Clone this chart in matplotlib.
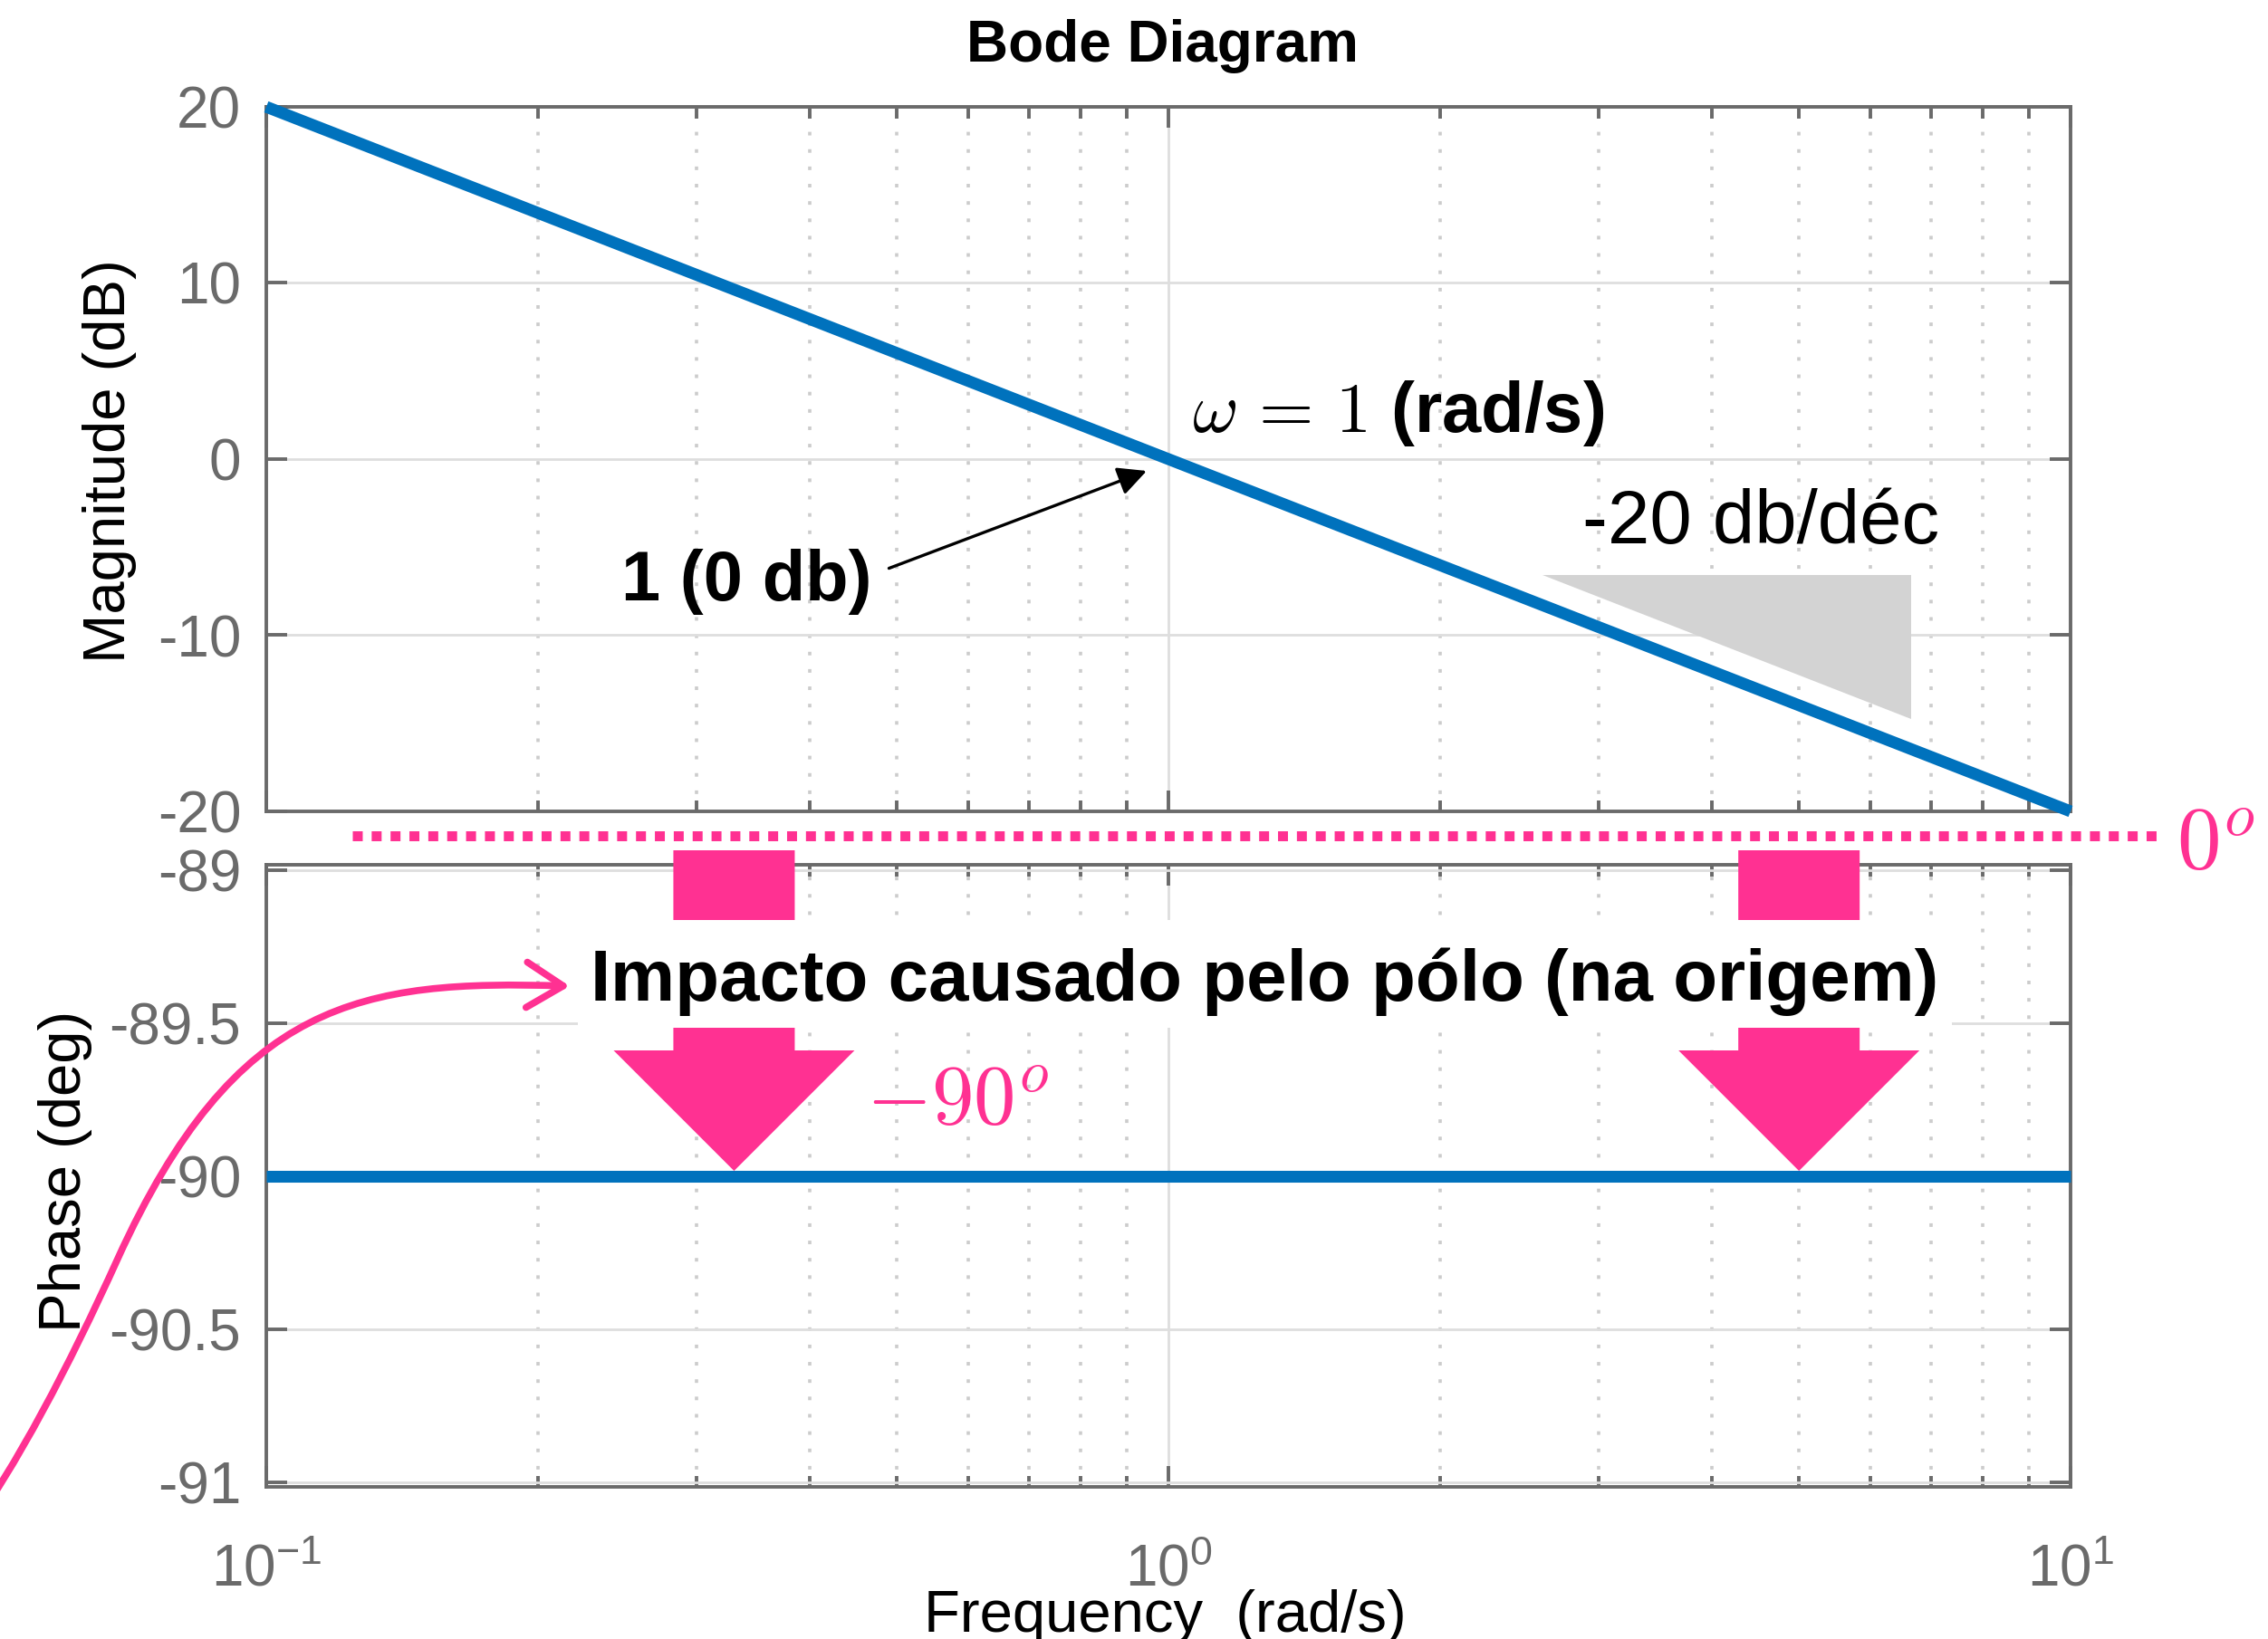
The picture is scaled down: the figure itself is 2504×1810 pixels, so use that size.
import numpy as np
import matplotlib
matplotlib.use("Agg")
import matplotlib.pyplot as plt
import matplotlib.transforms as mtransforms
from matplotlib.patches import Polygon, FancyArrowPatch, Rectangle, ArrowStyle
from matplotlib.path import Path
from matplotlib.lines import Line2D
from matplotlib.ticker import LogLocator, NullFormatter, FixedLocator, FuncFormatter

plt.rcParams["font.family"] = ["Liberation Sans", "DejaVu Sans"]
plt.rcParams["axes.unicode_minus"] = False

# Bode data of G(s) = 1/s at the decade points
freq_rad_s = [0.1, 1.0, 10.0]
magnitude_db = [20.0, 0.0, -20.0]
phase_deg = [-90.0, -90.0, -90.0]

mag_ticks = [-20, -10, 0, 10, 20]
phase_ticks = [-91, -90.5, -90, -89.5, -89]

# frequencies where the phase-shift arrows land
arrow_freqs = [0.33, 5.0]

# slope indicator triangle
slope_db_per_dec = -20
slope_tri_x = [2.6, 6.66]
slope_tri_top = -6.6

W, H, DPI = 2504, 1810, 100
BLUE = "#0072BD"
PINK = "#FF3192"
AX_GRAY = "#6a6a6a"

fig = plt.figure(figsize=(W / DPI, H / DPI), dpi=DPI, facecolor="white")

# pixel transform (x right, y down) for page decorations
px = mtransforms.Affine2D().scale(1 / W, -1 / H).translate(0, 1) + fig.transFigure


def px_box(left, top, right, bottom):
    return [left / W, 1 - bottom / H, (right - left) / W, (bottom - top) / H]


ax1 = fig.add_axes(px_box(294, 118, 2286, 896))
ax2 = fig.add_axes(px_box(294, 955, 2286, 1642))


def style(ax):
    ax.set_xscale("log")
    ax.set_xlim(0.1, 10)
    for s in ax.spines.values():
        s.set_color(AX_GRAY)
        s.set_linewidth(2.8)
    ax.tick_params(which="both", direction="in", top=True, right=True,
                   color=AX_GRAY, width=2.8, labelcolor=AX_GRAY, labelsize=46)
    ax.tick_params(which="major", length=16.5)
    ax.tick_params(which="minor", length=9)
    ax.tick_params(axis="y", pad=20)
    ax.xaxis.set_major_locator(LogLocator(base=10, numticks=10))
    ax.xaxis.set_minor_locator(LogLocator(base=10, subs=np.arange(2, 10), numticks=10))
    ax.xaxis.set_minor_formatter(NullFormatter())
    ax.grid(which="major", color="#dedede", lw=2.0, ls="-")
    ax.grid(which="minor", axis="x", color="#cccccc", lw=2.6, ls=(0, (1.1, 4.2)))
    ax.set_axisbelow(True)


style(ax1)
style(ax2)

# ---- magnitude ----
ax1.plot(freq_rad_s, magnitude_db, color=BLUE, lw=9.4, solid_capstyle="butt",
         clip_on=False, zorder=4)
ax1.set_ylim(-20, 20)
ax1.yaxis.set_major_locator(FixedLocator(mag_ticks))
ax1.tick_params(axis="x", labelbottom=False)
ax1.set_title("Bode Diagram", fontsize=46, fontweight="bold", pad=36)
ax1.title.set_x(0.4965)
ax1.set_ylabel("Magnitude (dB)", fontsize=47)
ax1.yaxis.set_label_coords(-0.072, 0.497)

ax1.text(0.4695, -8.02, "1 (0 db)", ha="right", va="baseline",
         fontsize=56, fontweight="bold", zorder=5)
ax1.annotate("", xy=(0.946, -0.67), xytext=(0.49, -6.2),
             arrowprops=dict(arrowstyle="-|>", color="black", lw=2.4,
                             mutation_scale=48, shrinkA=0, shrinkB=0), zorder=5)
ax1.text(1.062, 1.54, r"$\omega\,=\,1$ (rad/s)", ha="left", va="baseline",
         fontsize=56, fontweight="bold", math_fontfamily="cm", zorder=5)
ax1.text(2.876, -4.78, "-20 db/déc", ha="left", va="baseline", fontsize=60, zorder=5)

x0, x1 = slope_tri_x
tri_bottom = slope_tri_top + slope_db_per_dec * np.log10(x1 / x0)
ax1.add_patch(Polygon([(x0, slope_tri_top), (x1, slope_tri_top), (x1, tri_bottom)],
                      closed=True, facecolor="#d3d3d3", edgecolor="none", zorder=2))

# ---- phase ----
ax2.plot(freq_rad_s, phase_deg, color=BLUE, lw=9.4, solid_capstyle="butt",
         clip_on=False, zorder=4)
ax2.set_ylim(-91.015, -88.982)
ax2.yaxis.set_major_locator(FixedLocator(phase_ticks))
ax2.yaxis.set_major_formatter(FuncFormatter(lambda v, _: f"{v:g}"))
ax2.tick_params(axis="x", which="major", pad=45)
ax2.set_ylabel("Phase (deg)", fontsize=47)
ax2.yaxis.set_label_coords(-0.0965, 0.507)
ax2.set_xlabel("Frequency  (rad/s)", fontsize=47)
ax2.xaxis.set_label_coords(0.498, -0.164)

# big downward arrows, shape in pixels relative to the tip (x right, y up)
arrow_px = [(0, 6), (-133, 139), (-67, 139), (-67, 360), (67, 360), (67, 139), (133, 139)]
arrow_in = [(x / DPI, y / DPI) for x, y in arrow_px]
for fx in arrow_freqs:
    tr = fig.dpi_scale_trans + mtransforms.ScaledTranslation(fx, -90.0, ax2.transData)
    ax2.add_patch(Polygon(arrow_in, closed=True, facecolor=PINK, edgecolor="none",
                          transform=tr, clip_on=False, zorder=3))

# white panel behind the caption
ax2.add_patch(Rectangle((638, 1016), 1517, 119, transform=px, facecolor="white",
                        edgecolor="none", clip_on=False, zorder=5))
ax2.text(1.277, -89.426, "Impacto causado pelo pólo (na origem)", ha="center",
         va="baseline", fontsize=57.5, fontweight="bold", zorder=6)
ax2.text(0.4615, -89.831, r"$-90^o$", ha="left", va="baseline", fontsize=67,
         color=PINK, math_fontfamily="cm", zorder=6)

# dotted 0-degree reference between the panels
fig.add_artist(Line2D([389, 2383], [923, 923], transform=px, color=PINK, lw=7.9,
                      ls=(0, (1, 0.9)), dash_capstyle="butt", zorder=3))
fig.text(2403 / W, 1 - 960 / H, r"$0^o$", ha="left", va="baseline", fontsize=70,
         color=PINK, math_fontfamily="cm")

# S-shaped pointer towards the caption
curve = Path([(-40, 1700), (20, 1616), (75, 1511), (130, 1390),
              (260, 1104), (400, 1082), (629, 1089)],
             [Path.MOVETO, Path.CURVE4, Path.CURVE4, Path.CURVE4,
              Path.CURVE4, Path.CURVE4, Path.CURVE4])
fig.add_artist(FancyArrowPatch(path=curve, transform=px, color=PINK, lw=5.5,
                               arrowstyle=ArrowStyle("->", head_length=29, head_width=18),
                               mutation_scale=1, zorder=7))

fig.savefig("out.png", dpi=DPI, facecolor="white")
